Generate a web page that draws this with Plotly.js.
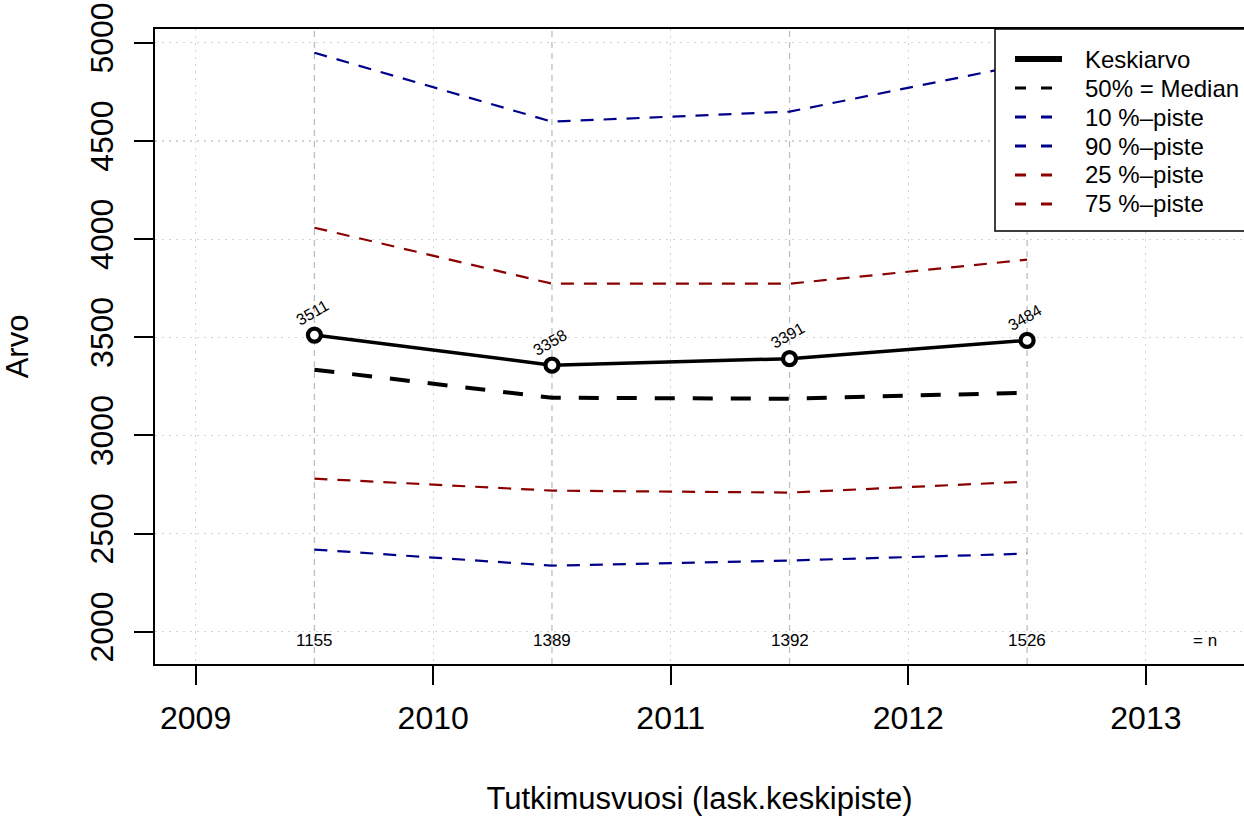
<!DOCTYPE html>
<html>
<head>
<meta charset="utf-8">
<script src="https://cdn.plot.ly/plotly-3.0.1.min.js"></script>
<style>html,body{margin:0;padding:0;background:#fff;}#chart{width:1244px;height:818px;}</style>
</head>
<body>
<div id="chart"></div>
<script>
// Data
const years = [2009.5, 2010.5, 2011.5, 2012.5];
const meanVals = [3511, 3358, 3391, 3484];
const medianVals = [3335, 3192, 3187, 3218];
const p10Vals = [2419, 2337, 2363, 2398];
const p90Vals = [4949, 4598, 4649, 4892];
const p25Vals = [2780, 2719, 2709, 2765];
const p75Vals = [4058, 3773, 3773, 3895];
const nVals = [1155, 1389, 1392, 1526];
const xTicks = [2009, 2010, 2011, 2012, 2013];
const yTicks = [2000, 2500, 3000, 3500, 4000, 4500, 5000];
const seriesNames = ["Keskiarvo", "50% = Median", "10 %\u2013piste", "90 %\u2013piste", "25 %\u2013piste", "75 %\u2013piste"];
const nLabel = "= n";
const nLabelX = 2013.25;
const nLabelY = 2000;

const BLUE = "#00008B", RED = "#8B0000";
const FONT = "Liberation Sans, Arial, Helvetica, sans-serif";
const DASH = "13px,10px";

const styles = [
  {color: "black", width: 3.5, dash: "solid"},
  {color: "black", width: 4, dash: "20px,18px"},
  {color: BLUE, width: 2.2, dash: DASH},
  {color: BLUE, width: 2.2, dash: DASH},
  {color: RED, width: 2.2, dash: DASH},
  {color: RED, width: 2.2, dash: DASH}
];
const seriesVals = [meanVals, medianVals, p10Vals, p90Vals, p25Vals, p75Vals];

const traces = seriesVals.map((vals, i) => ({
  x: years, y: vals, name: seriesNames[i], mode: "lines", showlegend: false, line: styles[i]
}));
traces.push({x: years, y: meanVals, mode: "markers", showlegend: false, hoverinfo: "skip",
  marker: {symbol: "circle", size: 13, color: "white", line: {color: "black", width: 4.2}}});

const annotations = [];
years.forEach((x, i) => {
  annotations.push({x: x, y: meanVals[i], xref: "x", yref: "y", text: String(meanVals[i]),
    showarrow: false, textangle: -30, yshift: 23, xshift: -2,
    font: {family: FONT, size: 16, color: "black"}});
  annotations.push({x: x, y: nLabelY, xref: "x", yref: "y", text: String(nVals[i]),
    showarrow: false, yshift: -9, font: {family: FONT, size: 17, color: "black"}});
});
annotations.push({x: nLabelX, y: nLabelY, xref: "x", yref: "y", text: nLabel,
  showarrow: false, yshift: -9, font: {family: FONT, size: 17, color: "black"}});

const shapes = years.map(x => ({type: "line", xref: "x", yref: "paper", x0: x, x1: x, y0: 0, y1: 1,
  line: {color: "#BEBEBE", width: 1.3, dash: "6px,5px"}, layer: "below"}));

// Legend box (R style), placed in paper coordinates of the plot area
const PW = 1089, PH = 635, PL = 155, PT = 29;
const px = v => (v - PL) / PW;
const py = v => (PT + PH - v) / PH;
shapes.push({type: "rect", xref: "paper", yref: "paper", x0: px(995), x1: px(1260), y0: py(231), y1: py(29),
  fillcolor: "white", line: {color: "black", width: 1.5}, layer: "above"});
seriesNames.forEach((name, i) => {
  const yy = 59 + 29 * i;
  const st = styles[i];
  shapes.push({type: "line", xref: "paper", yref: "paper", x0: px(1015), x1: px(i === 0 ? 1062 : 1056),
    y0: py(yy), y1: py(yy), layer: "above",
    line: {color: st.color, width: i === 0 ? 6 : 3, dash: i === 0 ? "solid" : "11px,15px"}});
  annotations.push({xref: "paper", yref: "paper", x: px(1083), y: py(yy), xanchor: "left", yanchor: "middle",
    text: name, showarrow: false, font: {family: FONT, size: 24, color: "black"}});
});

const layout = {
  width: 1244, height: 818,
  margin: {l: 155, r: 0, t: 29, b: 154},
  paper_bgcolor: "white", plot_bgcolor: "white",
  font: {family: FONT, color: "black", size: 31},
  showlegend: false,
  xaxis: {range: [2008.829, 2013.413], tickvals: xTicks, ticktext: xTicks.map(String),
    showgrid: true, gridcolor: "#D3D3D3", griddash: "2px,5px", gridwidth: 1.2,
    zeroline: false, showline: true, linecolor: "black", linewidth: 2, mirror: true,
    ticks: "outside", ticklen: 19, tickwidth: 2, tickcolor: "black",
    tickfont: {family: FONT, size: 32}, ticklabelstandoff: 6,
    title: {text: "Tutkimusvuosi (lask.keskipiste)", font: {family: FONT, size: 31}, standoff: 52}},
  yaxis: {range: [1836, 5070], tickvals: yTicks, ticktext: yTicks.map(String), tickangle: -90,
    showgrid: true, gridcolor: "#D3D3D3", griddash: "2px,5px", gridwidth: 1.2,
    zeroline: false, showline: true, linecolor: "black", linewidth: 2, mirror: false,
    ticks: "outside", ticklen: 19, tickwidth: 2, tickcolor: "black",
    tickfont: {family: FONT, size: 32}, ticklabelstandoff: 8,
    title: {text: "Arvo", font: {family: FONT, size: 31}, standoff: 48}},
  shapes: shapes,
  annotations: annotations
};

Plotly.newPlot("chart", traces, layout, {displayModeBar: false, staticPlot: true});
</script>
</body>
</html>
